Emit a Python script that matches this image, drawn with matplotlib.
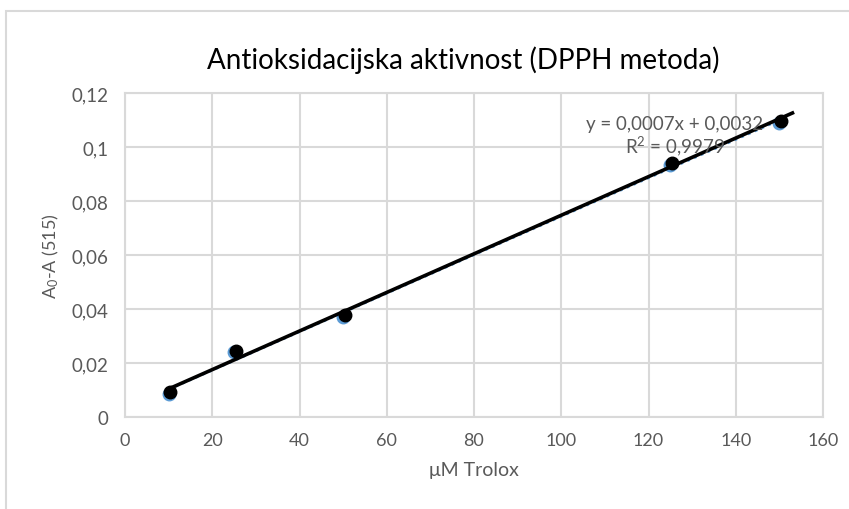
import numpy as np
import matplotlib
matplotlib.use("Agg")
import matplotlib.pyplot as plt
from matplotlib.patches import Rectangle

# measured points
trolox_um = [10, 25, 50, 125, 150]
absorbance_diff = [0.0085, 0.024, 0.037, 0.0935, 0.109]

# hand-drawn black line over the trendline
line_x = [10, 153]
line_y = [0.0104, 0.1126]

x_ticks = [0, 20, 40, 60, 80, 100, 120, 140, 160]
y_ticks = [0, 0.02, 0.04, 0.06, 0.08, 0.1, 0.12]
y_tick_labels = ["0", "0,02", "0,04", "0,06", "0,08", "0,1", "0,12"]

title = "Antioksidacijska aktivnost (DPPH metoda)"
equation = "y = 0,0007x + 0,0032\nR$^2$ = 0,9979"

plt.rcParams["font.family"] = ["Lato", "DejaVu Sans"]
plt.rcParams["mathtext.default"] = "regular"

gray_txt = "#595959"
grid_col = "#D9D9D9"

fig = plt.figure(figsize=(8.49, 5.10), dpi=100)
ax = fig.add_axes([125 / 849, 1 - 418 / 510, (823 - 125) / 849, (418 - 94) / 510])

# chart frame
fig.patches.append(Rectangle((6 / 849, -0.1), 1.2, 1.1 - 12 / 510,
                             transform=fig.transFigure, fill=False,
                             edgecolor=grid_col, linewidth=1.5))

# linear trendline (dotted, Excel style)
slope, intercept = np.polyfit(trolox_um, absorbance_diff, 1)
tx = np.array([min(trolox_um), max(trolox_um)])
ax.plot(tx, slope * tx + intercept, linestyle=":", color="#5B9BD5",
        linewidth=2, zorder=2)

ax.plot(trolox_um, absorbance_diff, "o", color="#5B9BD5", markersize=9,
        zorder=3)
ax.plot(np.array(trolox_um) + 0.4, np.array(absorbance_diff) + 0.0006, "o",
        color="black", markersize=9, zorder=4)
ax.plot(line_x, line_y, color="black", linewidth=2.6, zorder=5)

ax.text(126, 0.104, equation, ha="center", va="center", fontsize=13.5,
        color=gray_txt, linespacing=1.1, zorder=6)

ax.set_xlim(0, 160)
ax.set_ylim(0, 0.12)
ax.set_xticks(x_ticks)
ax.set_yticks(y_ticks)
ax.set_yticklabels(y_tick_labels)
ax.tick_params(axis="x", length=0, labelsize=13, labelcolor=gray_txt, pad=11)
ax.tick_params(axis="y", length=0, labelsize=13.5, labelcolor=gray_txt, pad=12)
ax.grid(True, color=grid_col, linewidth=1.5)
ax.set_axisbelow(True)
for s in ax.spines.values():
    s.set_color(grid_col)
    s.set_linewidth(1.5)

ax.set_xlabel("μM Trolox", fontsize=14, color=gray_txt, labelpad=9)
ax.set_ylabel("A$_0$-A (515)", fontsize=13, color=gray_txt)
ax.yaxis.set_label_coords(-0.092, 0.5)
fig.text(463 / 849, 1 - 60 / 510, title, ha="center", va="center",
         fontsize=20, color="black")

fig.savefig("out.png", dpi=100)
